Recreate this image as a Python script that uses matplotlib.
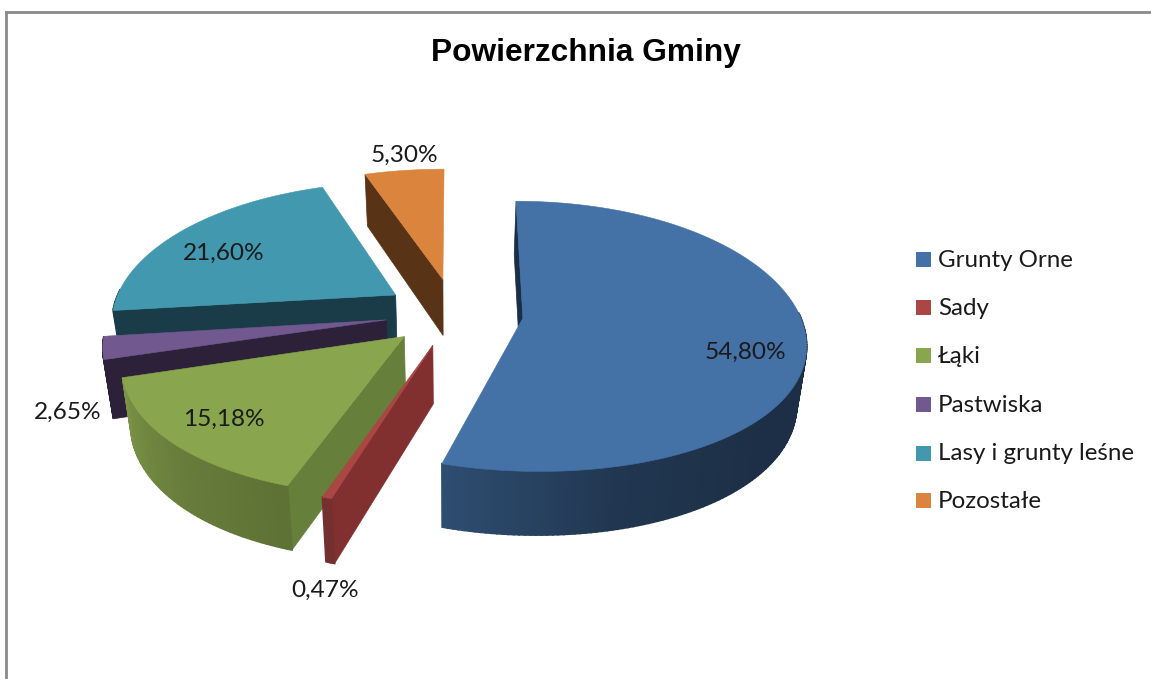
import numpy as np
import matplotlib
matplotlib.use('Agg')
import matplotlib.pyplot as plt
from matplotlib.patches import Polygon, Rectangle
from matplotlib.colors import to_rgb

kategorie = ['Grunty Orne', 'Sady', 'Łąki', 'Pastwiska', 'Lasy i grunty leśne', 'Pozostałe']
wartosci = [54.80, 0.47, 15.18, 2.65, 21.60, 5.30]
kolory = ['#4471a6', '#aa4643', '#89a54e', '#71588f', '#4198af', '#db843d']
kolory_scian = ['#1b2e47', '#82302f', '#667f3a', '#2d2139', '#1a3c48', '#583315']

# polozenie etykiet danych (srodek tekstu, piksele)
poz_etykiet = [(745, 352), (325, 590), (224, 419), (68, 412), (224, 253), (404, 155)]
legenda_y = [260, 308, 356, 404.5, 453.5, 501]

START = 0  # kat pierwszego wycinka
CX, CY = 454.4, 313
EXPL_X, EXPL_Y = 69.3, 34


def rzut(theta, off_x, off_y):
    # przyblizona perspektywa gornej powierzchni, kat od gory zgodnie z zegarem
    t = np.radians(theta)
    s, c = np.sin(t), np.cos(t)
    skala = 1 - 0.158 * c + 0.021 * c ** 2
    # dalsze od srodka wycinki rozjezdzaja sie mocniej z przodu
    x = 278 * s * skala + off_x * (-0.171 * c + 0.071 * c ** 2)
    y = -c * (133.9 - 17.9 * c) + off_y * np.where(c < 0, -0.3 * c, -0.17 * c)
    return x, y


def dol(x, y):
    # dolna krawedz sciany: zbieganie do srodka i glebokosc rosnaca ku przodowi
    return 450 + (x - 450) * 0.972, y + 52 + (y - 180) * 0.04


def jasnosc(theta):
    return np.interp(theta, [90, 135, 165, 197, 225, 255, 270], [0.42, 0.42, 0.48, 0.68, 0.76, 0.9, 0.9])


fig = plt.figure(figsize=(11.51, 6.79), dpi=100)
ax = fig.add_axes([0, 0, 1, 1])
ax.set_xlim(0, 1151)
ax.set_ylim(679, 0)
ax.axis('off')

# ramka wykresu
ax.plot([6, 6], [679, 12], color='#8a8a8a', lw=2)
ax.plot([6, 1151], [12, 12], color='#8a8a8a', lw=2)

ax.text(585.5, 53, 'Powierzchnia Gminy', family='Liberation Sans', weight='bold',
        fontsize=22.8, ha='center', va='center', color='black')

granice = START + np.cumsum([0] + wartosci) * 3.6
kolejnosc = [5, 4, 3, 2, 1, 0]

for i in kolejnosc:
    a, b = granice[i], granice[i + 1]
    srodek = np.radians((a + b) / 2)
    off_x = EXPL_X * np.sin(srodek)
    off_y = -EXPL_Y * np.cos(srodek)
    vx = CX + off_x
    vy = CY + off_y

    katy = np.linspace(a, b, max(int(b - a), 3))
    px, py = rzut(katy, off_x, off_y)
    px, py = px + vx, py + vy

    # sciana promieniowa przy poczatku wycinka
    x0, y0 = px[0], py[0]
    bx0, by0 = dol(x0, y0)
    bvx, bvy = dol(vx, vy)
    ax.add_patch(Polygon([(vx, vy), (x0, y0), (bx0, by0), (bvx, bvy)],
                         fc=kolory_scian[i], ec=kolory_scian[i], lw=0.5))

    # zewnetrzna sciana z cieniowaniem
    baza = np.array(to_rgb(kolory[i]))
    for j in range(len(katy) - 1):
        kat = (katy[j] + katy[j + 1]) / 2
        if not 88 < kat < 272:
            continue
        if i in (3, 4):
            kol = kolory_scian[i]
        else:
            kol = tuple(baza * jasnosc(kat))
        xa, ya = dol(px[j], py[j])
        xb, yb = dol(px[j + 1], py[j + 1])
        ax.add_patch(Polygon([(px[j], py[j]), (px[j + 1], py[j + 1]), (xb, yb), (xa, ya)],
                             fc=kol, ec=kol, lw=1.2))

    # gorna powierzchnia
    ax.add_patch(Polygon(np.column_stack([np.r_[vx, px], np.r_[vy, py]]),
                         fc=kolory[i], ec=kolory[i], lw=0.4))

for w, (x, y) in zip(wartosci, poz_etykiet):
    ax.text(x, y, f'{w:.2f}'.replace('.', ',') + '%', family='Lato', fontsize=17.6,
            ha='center', va='center', color='#1a1a1a')

for nazwa, kol, y in zip(kategorie, kolory, legenda_y):
    ax.add_patch(Rectangle((916, y - 8), 15, 15, fc=kol, ec='none'))
    ax.text(938, y + 7, nazwa, family='Lato', fontsize=17.4, ha='left', va='baseline', color='#1a1a1a')

plt.savefig('out.png', dpi=100)
